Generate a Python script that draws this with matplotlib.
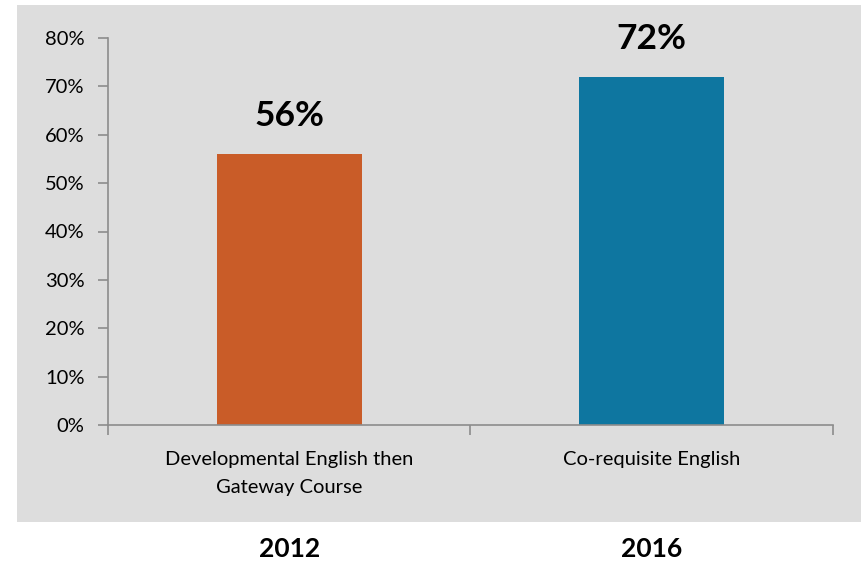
import matplotlib.pyplot as plt
from matplotlib.patches import Rectangle
from matplotlib.ticker import FixedLocator, FuncFormatter

plt.rcParams['font.family'] = ['Lato', 'DejaVu Sans']

categories = ['Developmental English then\nGateway Course', 'Co-requisite English']
years = ['2012', '2016']
values = [0.56, 0.72]
colors = ['#C95C28', '#0E76A0']
yticks = [0, 0.1, 0.2, 0.3, 0.4, 0.5, 0.6, 0.7, 0.8]

fig = plt.figure(figsize=(8.62, 5.66), dpi=100)
fig.patch.set_facecolor('white')
# gray panel behind the chart
fig.patches.append(Rectangle((17 / 862, 1 - 522 / 566), 1 - 17 / 862, 517 / 566,
                             transform=fig.transFigure, facecolor='#DDDDDD',
                             edgecolor='none', zorder=-5))

ax = fig.add_axes([108 / 862, 1 - 425 / 566, (833 - 108) / 862, (425 - 38) / 566])
ax.set_facecolor('none')

x = range(len(values))
bars = ax.bar(x, values, width=0.4, color=colors)
for b, v in zip(bars, values):
    ax.text(b.get_x() + b.get_width() / 2, v + 0.045, f'{v:.0%}',
            ha='center', va='bottom', fontsize=25.5, fontweight='bold')

ax.set_xlim(-0.5, 1.5)
ax.set_ylim(0, 0.8)
ax.set_yticks(yticks)
ax.yaxis.set_major_formatter(FuncFormatter(lambda v, p: f'{v:.0%}'))
ax.set_xticks(list(x))
ax.set_xticklabels(categories, fontsize=14.5, linespacing=1.75)
ax.xaxis.set_minor_locator(FixedLocator([-0.5, 0.5, 1.5]))

ax.tick_params(axis='y', labelsize=14.5, length=7, color='#8C8C8C', width=1.2, pad=10)
ax.tick_params(axis='x', which='major', length=0, pad=19)
ax.tick_params(axis='x', which='minor', length=7, color='#8C8C8C', width=1.2)

for side in ['top', 'right']:
    ax.spines[side].set_visible(False)
for side in ['left', 'bottom']:
    ax.spines[side].set_color('#8C8C8C')
    ax.spines[side].set_linewidth(1.2)

for xi, yr in zip(x, years):
    ax.text(xi, -0.32, yr, transform=ax.get_xaxis_transform(), ha='center',
            va='center', fontsize=19, fontweight='bold')

fig.savefig('out.png', dpi=100)
